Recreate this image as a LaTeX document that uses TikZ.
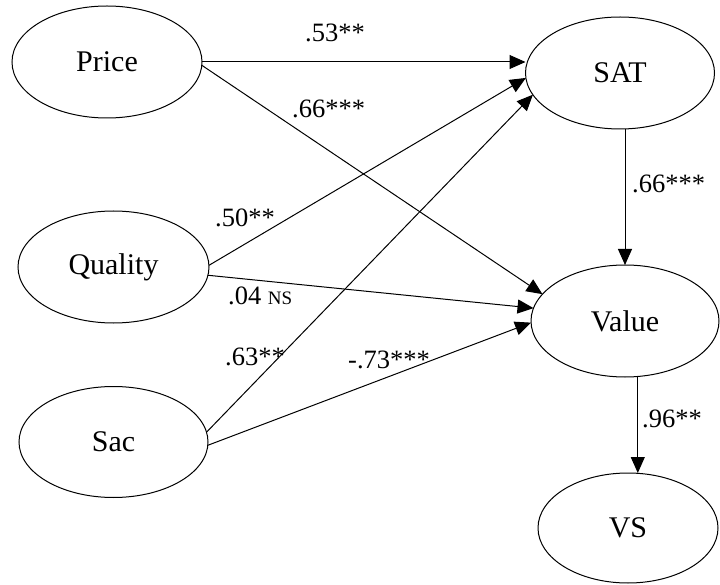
\documentclass[tikz,border=0pt]{standalone}
\usepackage{fontspec}
\setmainfont{Liberation Serif}
\usetikzlibrary{shapes.geometric,arrows.meta}
\begin{document}
\begin{tikzpicture}[x=1pt,y=-1pt,
  latent/.style={draw, ellipse, line width=1pt, inner sep=0pt, outer sep=0pt,
    minimum width=190pt, minimum height=112pt, font=\fontsize{30}{34}\selectfont},
  link/.style={draw, line width=1pt, -{Triangle[length=16pt,width=14pt]}},
  coef/.style={anchor=base west, inner sep=0pt, font=\fontsize{26.5}{30}\selectfont}]
\useasboundingbox (0,0) rectangle (720,585);

% latent constructs
\node[latent] (price)   at (107,62)    {Price};
\node[latent, minimum width=191pt] (quality) at (113.5,267) {Quality};
\node[latent, minimum width=189pt, minimum height=111pt] (sac) at (113.5,442) {Sac};
\node[latent, minimum width=189pt] (sat)   at (620,73)  {SAT};
\node[latent, minimum width=188pt] (value) at (625,321) {Value};
\node[latent, minimum width=180pt, minimum height=110pt] (vs) at (628,528) {VS};

% structural paths
\draw[link] (price.east) -- (price.east -| sat.west);
\draw[link] (price.-2) -- (value.162);
\draw[link] (quality.1) -- (sat.183);
\draw[link] (quality.-5) -- (value.172);
\draw[link] (sac.6) -- (sat.194);
\draw[link] (sac.-2) -- (value.181);
\draw[link] (value.north |- sat.south) -- (value.north);
\draw[link] (value.-77) -- (value.-77 |- vs.north);

% path coefficients
\node[coef] (c53)  at (305,41.5) {.53**};
\node[coef] (c66a) at (292,118)  {.66***};
\node[coef] (c50)  at (215,227)  {.50**};
\node[coef] (c04)  at (228,305)  {.04 {\fontsize{19}{20}\selectfont NS}};
\node[coef] (c63)  at (225,365)  {.63**};
\node[coef] (c73)  at (348,368)  {-.73***};
\node[coef] (c66b) at (632,193)  {.66***};
\node[coef] (c96)  at (642,427)  {.96**};
\end{tikzpicture}
\end{document}
